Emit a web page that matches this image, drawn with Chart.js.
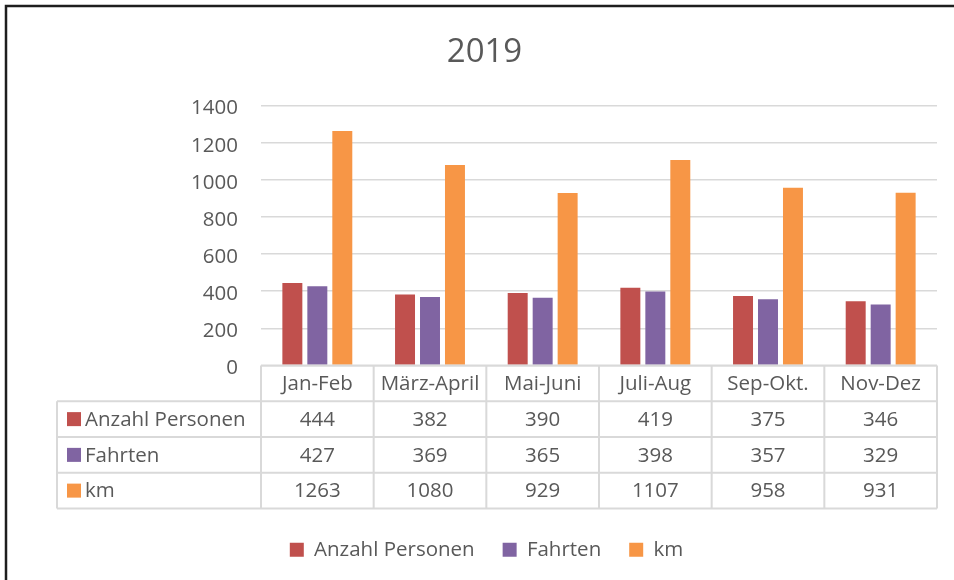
<!DOCTYPE html>
<html>
<head>
<meta charset="utf-8">
<script src="https://cdn.jsdelivr.net/npm/chart.js@4"></script>
<style>
  html, body { margin: 0; padding: 0; background: #ffffff; }
  #wrap { position: relative; width: 954px; height: 580px; }
</style>
</head>
<body>
<div id="wrap"><canvas id="c" width="954" height="580"></canvas></div>
<script>
const categories = ['Jan-Feb', 'März-April', 'Mai-Juni', 'Juli-Aug', 'Sep-Okt.', 'Nov-Dez'];
const anzahlPersonen = [444, 382, 390, 419, 375, 346];
const fahrten = [427, 369, 365, 398, 357, 329];
const km = [1263, 1080, 929, 1107, 958, 931];
const seriesNames = ['Anzahl Personen', 'Fahrten', 'km'];
const seriesColors = ['#C0504D', '#8064A2', '#F79646'];
const yTicks = [0, 200, 400, 600, 800, 1000, 1200, 1400];
const titleText = '2019';

const FONT = "'Open Sans', 'Noto Sans', sans-serif";
const TEXT = '#595959';
const LINE = '#d9d9d9';

const tablePlugin = {
  id: 'dataTable',
  afterLayout(chart) {
    // shift title and legend slightly right, as in the reference
    if (chart.titleBlock) { chart.titleBlock.left += 8; chart.titleBlock.right += 8; }
    if (chart.legend) { chart.legend.left += 10; chart.legend.right += 10; }
  },
  beforeDraw(chart) {
    const ctx = chart.ctx;
    ctx.save();
    ctx.fillStyle = '#ffffff';
    ctx.fillRect(0, 0, chart.width, chart.height);
    ctx.strokeStyle = '#1e1e1e';
    ctx.lineWidth = 2.5;
    ctx.beginPath();
    ctx.moveTo(6, chart.height);
    ctx.lineTo(6, 6);
    ctx.lineTo(chart.width, 6);
    ctx.stroke();
    ctx.restore();
  },
  afterDatasetsDraw(chart) {
    const ctx = chart.ctx;
    const area = chart.chartArea;
    const xs = chart.scales.x;
    const left = area.left, right = area.right, top = area.bottom;
    const rowH = 35.75;
    const tableLeft = 57;
    const n = categories.length;
    const colW = (right - left) / n;
    const rows = [anzahlPersonen, fahrten, km];
    ctx.save();
    ctx.strokeStyle = LINE;
    ctx.lineWidth = 2;
    ctx.beginPath();
    ctx.moveTo(left, top); ctx.lineTo(right, top);
    for (let k = 1; k <= 4; k++) {
      ctx.moveTo(tableLeft, top + rowH * k);
      ctx.lineTo(right, top + rowH * k);
    }
    for (let i = 0; i <= n; i++) {
      const x = left + colW * i;
      ctx.moveTo(x, top); ctx.lineTo(x, top + rowH * 4);
    }
    ctx.moveTo(tableLeft, top + rowH); ctx.lineTo(tableLeft, top + rowH * 4);
    ctx.stroke();

    ctx.fillStyle = TEXT;
    ctx.font = '20.5px ' + FONT;
    ctx.textBaseline = 'middle';
    ctx.textAlign = 'center';
    categories.forEach((c, i) => {
      ctx.fillText(c, xs.getPixelForValue(i), top + rowH / 2 + 1);
    });
    rows.forEach((vals, r) => {
      const cy = top + rowH * (r + 1) + rowH / 2 + 1;
      ctx.textAlign = 'center';
      ctx.fillStyle = TEXT;
      vals.forEach((v, i) => {
        ctx.fillText(String(v), xs.getPixelForValue(i), cy);
      });
      ctx.fillStyle = seriesColors[r];
      ctx.fillRect(67, cy - 8, 14, 14);
      ctx.fillStyle = TEXT;
      ctx.textAlign = 'left';
      ctx.fillText(seriesNames[r], 85, cy);
    });
    ctx.restore();
  }
};

const datasets = [anzahlPersonen, fahrten, km].map((d, i) => ({
  label: seriesNames[i],
  data: d,
  backgroundColor: seriesColors[i],
  borderWidth: 0,
  categoryPercentage: 0.665,
  barPercentage: 0.8
}));

new Chart(document.getElementById('c'), {
  type: 'bar',
  data: { labels: categories, datasets },
  plugins: [tablePlugin],
  options: {
    responsive: false,
    animation: false,
    events: [],
    layout: { padding: { top: 0, left: 16, right: 17, bottom: 10 } },
    plugins: {
      title: {
        display: true,
        text: titleText,
        color: TEXT,
        font: { family: FONT, size: 33, weight: 'normal' },
        padding: { top: 33, bottom: 33 }
      },
      legend: {
        position: 'bottom',
        labels: {
          color: TEXT,
          font: { family: FONT, size: 20.5 },
          boxWidth: 14,
          boxHeight: 14,
          padding: 28
        }
      },
      tooltip: { enabled: false }
    },
    scales: {
      x: {
        grid: { display: false },
        border: { display: false },
        ticks: { display: false },
        afterFit(scale) { scale.height = 146; }
      },
      y: {
        min: 0,
        max: 1400,
        afterBuildTicks(scale) { scale.ticks = yTicks.map(v => ({ value: v })); },
        grid: { color: LINE, lineWidth: 1.5, drawTicks: false },
        border: { display: false },
        ticks: {
          color: TEXT,
          font: { family: FONT, size: 20.5 },
          padding: 23,
          labelOffset: 3,
          callback: (v) => String(v)
        },
        afterFit(scale) { scale.width = 261 - 16; }
      }
    }
  }
});
</script>
</body>
</html>
